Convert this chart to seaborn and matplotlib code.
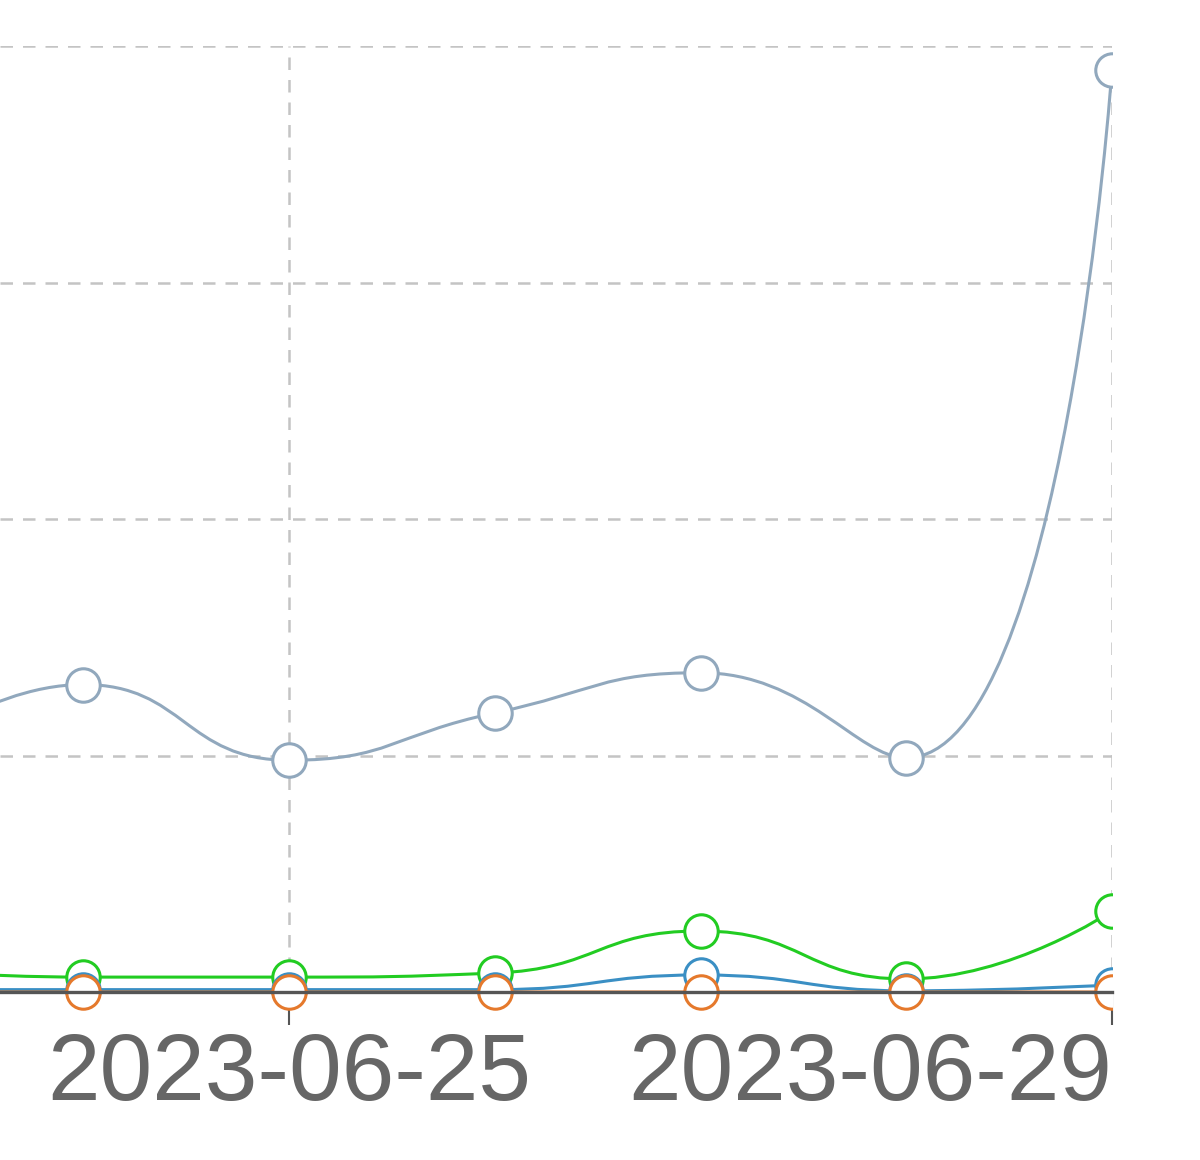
import numpy as np
import pandas as pd
import matplotlib
matplotlib.use('Agg')
import matplotlib.pyplot as plt
from matplotlib.path import Path
from matplotlib.patches import PathPatch, Rectangle
import seaborn as sns

# values (one gridline step = 1 unit)
dates = pd.to_datetime(['2023-06-23', '2023-06-24', '2023-06-25', '2023-06-26',
                        '2023-06-27', '2023-06-28', '2023-06-29'])
total_vals = [0.92, 1.30, 0.98, 1.18, 1.35, 0.99, 3.90]
green_vals = [0.10, 0.063, 0.063, 0.08, 0.258, 0.055, 0.342]
blue_vals = [0.01, 0.01, 0.01, 0.01, 0.072, 0.005, 0.03]
orange_vals = [0.0, 0.0, 0.0, 0.0, 0.0, 0.0, 0.0]
tick_dates = pd.to_datetime(['2023-06-25', '2023-06-29'])
tick_labels = ['2023-06-25', '2023-06-29']

series = [('total', total_vals, '#91a8bd'),
          ('green', green_vals, '#22cc22'),
          ('blue', blue_vals, '#3a8fc4'),
          ('orange', orange_vals, '#e5792c')]

sns.set_theme(style='white')
plt.rcParams['font.family'] = ['Liberation Sans', 'DejaVu Sans']

fig = plt.figure(figsize=(12, 11.6), dpi=100)
ax = fig.add_axes([0, 1 - 992 / 1160, 1112 / 1200, (992 - 46) / 1160])

x_right = pd.Timestamp('2023-06-29')
x_left = x_right - pd.Timedelta(days=1112 / 205.75)
ax.set_xlim(x_left, x_right)
ax.set_ylim(0, 4)


def clamp(v, a, b):
    return min(max(v, min(a, b)), max(a, b))


def smooth_path(ax, xs, ys, smooth=0.5):
    # bezier smoothing like echarts (control points clamped, pixel space)
    xn = matplotlib.dates.date2num(xs)
    pts = ax.transData.transform(np.column_stack([xn, ys]))
    n = len(pts)
    verts = [pts[0]]
    codes = [Path.MOVETO]
    cp0 = pts[0].copy()
    for i in range(1, n):
        x, y = pts[i]
        px, py = pts[i - 1]
        if i == n - 1:
            cp1 = np.array([x, y])
            nxt_cp = np.array([x, y])
        else:
            nx, ny = pts[i + 1]
            vx, vy = nx - px, ny - py
            l0 = np.hypot(x - px, y - py)
            l1 = np.hypot(nx - x, ny - y)
            r = l1 / (l0 + l1)
            ncx = clamp(x + vx * smooth * r, nx, x)
            ncy = clamp(y + vy * smooth * r, ny, y)
            vx, vy = ncx - x, ncy - y
            c1x = clamp(x - vx * l0 / l1, px, x)
            c1y = clamp(y - vy * l0 / l1, py, y)
            vx, vy = x - c1x, y - c1y
            cp1 = np.array([c1x, c1y])
            nxt_cp = np.array([x + vx * l1 / l0, y + vy * l1 / l0])
        verts += [cp0, cp1, pts[i]]
        codes += [Path.CURVE4] * 3
        cp0 = nxt_cp
    verts = ax.transData.inverted().transform(np.array(verts))
    return Path(verts, codes)


# clip only at the left/right edges, let markers spill below the axis
clip_rect = Rectangle((0, -0.2), 1, 1.4, transform=ax.transAxes, visible=False)
ax.add_patch(clip_rect)

for k, (name, vals, col) in enumerate(series):
    df = pd.DataFrame({'date': dates, 'value': vals})
    line = PathPatch(smooth_path(ax, dates, vals), facecolor='none',
                     edgecolor=col, linewidth=2.2, zorder=3 + k)
    ax.add_patch(line)
    line.set_clip_path(clip_rect)
    sns.scatterplot(data=df, x='date', y='value', ax=ax, s=580, color='white',
                    edgecolor=col, linewidth=2.2, zorder=3.5 + k, legend=False)
    ax.collections[-1].set_clip_path(clip_rect)

# grid
ax.set_yticks([1, 2, 3, 4])
ax.set_xticks(tick_dates)
ax.grid(True, color='#c4c4c4', linestyle=(0, (5, 4)), linewidth=1.8)
ax.set_axisbelow(True)

ax.set_xticklabels(tick_labels)
ax.tick_params(axis='x', direction='out', length=24, width=1.5, color='#555555',
               labelsize=68, labelcolor='#666666', pad=4, bottom=True)
ax.tick_params(axis='y', left=False, labelleft=False)
ax.get_xticklabels()[-1].set_horizontalalignment('right')
ax.set_xlabel('')
ax.set_ylabel('')

for side in ['left', 'right', 'top']:
    ax.spines[side].set_visible(False)
ax.spines['bottom'].set_color('#555555')
ax.spines['bottom'].set_linewidth(2.4)
ax.spines['bottom'].set_zorder(20)

fig.savefig('out.png', dpi=100)
